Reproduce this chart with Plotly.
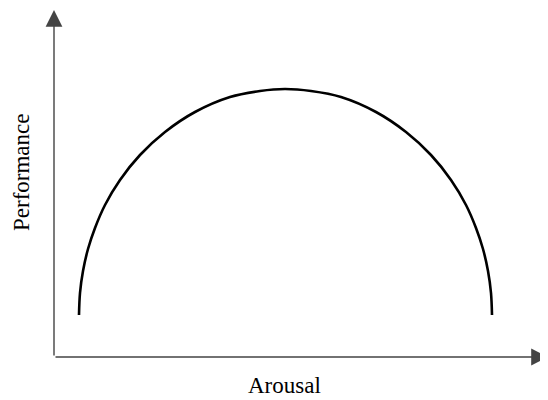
import plotly.graph_objects as go

# curva en U invertida (unidades de eje, origen en la esquina)
arousal = [25, 26, 29, 34, 41, 51, 66, 86, 111, 141, 176, 206, 231,
           257, 287, 322, 352, 377, 397, 412, 422, 429, 434, 437, 438]
performance = [42, 64, 86, 108, 129, 152, 177, 202, 225, 245, 260, 266, 268,
               266, 260, 245, 225, 202, 177, 152, 129, 108, 86, 64, 42]

x_label = "Arousal"
y_label = "Performance"

x_max = 494
y_max = 347

fig = go.Figure(
    go.Scatter(
        x=arousal,
        y=performance,
        mode="lines",
        line=dict(color="black", width=2.6, shape="spline"),
        hoverinfo="skip",
    )
)

# ejes con flecha
for ex, ey in [(0, y_max), (x_max, 0)]:
    fig.add_annotation(
        x=ex, y=ey, ax=0, ay=0,
        xref="x", yref="y", axref="x", ayref="y",
        showarrow=True, arrowhead=2, arrowsize=2.4, arrowwidth=1.4,
        arrowcolor="#444444", standoff=0, text="",
    )

serif = "Liberation Serif"
fig.add_annotation(
    xref="paper", yref="paper",
    x=(21 - 54) / 494, y=(357 - 172) / 347,
    xanchor="center", yanchor="middle",
    text=y_label, showarrow=False, textangle=-90,
    font=dict(family=serif, size=23, color="black"),
)
fig.add_annotation(
    xref="paper", yref="paper",
    x=(284 - 54) / 494, y=(357 - 385) / 347,
    xanchor="center", yanchor="middle",
    text=x_label, showarrow=False,
    font=dict(family=serif, size=23, color="black"),
)

# la pagina deja 8px de margen en el body: se compensa en el tamaño
fig.update_layout(
    width=540,
    height=392,
    margin=dict(l=46, r=0, t=2, b=43),
    paper_bgcolor="white",
    plot_bgcolor="white",
    showlegend=False,
    xaxis=dict(range=[0, x_max], visible=False, fixedrange=True),
    yaxis=dict(range=[0, y_max], visible=False, fixedrange=True),
)

fig.write_html("out.html")
